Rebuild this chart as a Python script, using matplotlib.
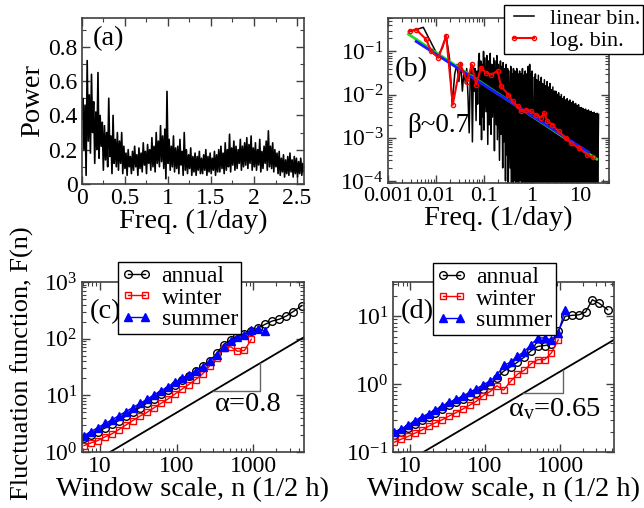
import numpy as np
import matplotlib.pyplot as plt
from matplotlib import ticker

plt.rcParams['font.family'] = ['Liberation Serif', 'DejaVu Serif']
plt.rcParams['mathtext.fontset'] = 'custom'
plt.rcParams['mathtext.rm'] = 'Liberation Serif'
plt.rcParams['mathtext.it'] = 'Liberation Serif:italic'

# (a) power spectrum, linear frequency axis
power_a = [
    0.38, 0.50, 0.20, 0.46, 0.05, 0.72, 0.25, 0.52,
    0.18, 0.64, 0.30, 0.48, 0.12, 0.42, 0.20, 0.65,
    0.15, 0.40, 0.22, 0.36, 0.08, 0.34, 0.14, 0.30,
    0.10, 0.50, 0.16, 0.28, 0.06, 0.40, 0.12, 0.26,
    0.10, 0.30, 0.08, 0.25, 0.12, 0.30, 0.06, 0.22,
    0.09, 0.18, 0.05, 0.20, 0.10, 0.16, 0.06, 0.19,
    0.08, 0.22, 0.10, 0.17, 0.05, 0.21, 0.09, 0.18,
    0.07, 0.24, 0.11, 0.19, 0.06, 0.23, 0.12, 0.20,
    0.08, 0.27, 0.10, 0.22, 0.07, 0.30, 0.12, 0.25,
    0.10, 0.34, 0.13, 0.28, 0.09, 0.32, 0.03, 0.54,
    0.12, 0.26, 0.08, 0.22, 0.10, 0.28, 0.07, 0.21,
    0.09, 0.22, 0.06, 0.26, 0.11, 0.19, 0.05, 0.30,
    0.08, 0.20, 0.06, 0.17, 0.09, 0.21, 0.05, 0.16,
    0.07, 0.18, 0.05, 0.16, 0.08, 0.19, 0.06, 0.15,
    0.06, 0.17, 0.08, 0.20, 0.05, 0.16, 0.07, 0.18,
    0.06, 0.15, 0.08, 0.19, 0.05, 0.17, 0.07, 0.20,
    0.07, 0.22, 0.09, 0.18, 0.06, 0.24, 0.08, 0.20,
    0.10, 0.29, 0.07, 0.21, 0.11, 0.25, 0.08, 0.22,
    0.09, 0.20, 0.12, 0.26, 0.08, 0.22, 0.10, 0.24,
    0.11, 0.27, 0.09, 0.23, 0.12, 0.28, 0.08, 0.21,
    0.10, 0.24, 0.08, 0.20, 0.11, 0.26, 0.07, 0.19,
    0.09, 0.22, 0.12, 0.25, 0.08, 0.31, 0.10, 0.22,
    0.09, 0.24, 0.07, 0.20, 0.10, 0.18, 0.06, 0.19,
    0.05, 0.15, 0.07, 0.17, 0.04, 0.14, 0.06, 0.16,
    0.05, 0.18, 0.07, 0.14, 0.04, 0.16, 0.06, 0.15,
    0.04, 0.13, 0.06, 0.15, 0.05, 0.12, 0.07,
]
freq_a = np.linspace(0.0, 2.58, len(power_a))  # evenly sampled spectrum

# (b) linear binning
freq_lin = [
    0.0027, 0.0055, 0.0082, 0.011, 0.0137, 0.0164, 0.0192, 0.0219, 0.0247, 0.0274,
    0.0301, 0.0329, 0.0356, 0.0384, 0.0411, 0.0438, 0.0466, 0.0493, 0.052, 0.0548,
    0.0575, 0.0603, 0.063, 0.0658, 0.0685, 0.0712, 0.074, 0.0767,
    0.080, 0.083, 0.086, 0.089, 0.092, 0.095, 0.098, 0.10, 0.105, 0.11, 0.115, 0.12,
    0.125, 0.13, 0.135, 0.14, 0.145, 0.15, 0.16, 0.165, 0.17, 0.18, 0.185, 0.19, 0.2,
    0.21, 0.22, 0.225, 0.235, 0.245, 0.25, 0.26, 0.27, 0.28, 0.29, 0.3,
    0.31, 0.32, 0.33, 0.35, 0.36, 0.37, 0.39, 0.4, 0.41, 0.43, 0.44, 0.46, 0.48, 0.49,
    0.51, 0.53, 0.55, 0.57, 0.59, 0.61, 0.63, 0.65, 0.67, 0.7, 0.72, 0.75, 0.77, 0.8,
    0.83, 0.86, 0.89, 0.92, 0.95, 0.98,
    1.0, 1.05, 1.1, 1.13, 1.17, 1.2, 1.25, 1.3, 1.35, 1.4, 1.45, 1.5, 1.55, 1.6, 1.65,
    1.7, 1.8, 1.85, 1.9, 2.0, 2.05, 2.1, 2.2, 2.3, 2.35, 2.45, 2.5, 2.6, 2.7, 2.8, 2.9, 3.0,
    3.1, 3.2, 3.3, 3.4, 3.55, 3.65, 3.8, 3.9, 4.05, 4.2, 4.35, 4.5, 4.65, 4.8, 5.0, 5.15,
    5.35, 5.5, 5.7, 5.9, 6.1, 6.3, 6.5, 6.75, 7.0, 7.2, 7.5, 7.75, 8.0, 8.3, 8.6, 8.9,
    9.2, 9.5, 9.8,
    10.2, 10.5, 10.9, 11.3, 11.7, 12.1, 12.5, 12.9, 13.4, 13.8, 14.3, 14.8, 15.3, 15.8,
    16.4, 16.9, 17.5, 18.1, 18.8, 19.4, 20.1, 20.8, 21.5, 22.3, 23.0, 24.0,
]
power_lin = [
    0.28, 0.36, 0.15, 0.08, 0.12, 0.23, 0.07, 0.006, 0.03, 0.05,
    0.02, 0.055, 0.012, 0.035, 0.018, 0.04, 0.009, 0.0013, 0.03, 0.05,
    0.0008, 0.045, 0.012, 0.04, 0.0025, 0.035, 0.006, 0.055,
    0.09, 0.002, 0.06, 0.0009, 0.05, 0.003, 0.1, 0.0015, 0.07, 0.004, 0.08, 0.0007,
    0.06, 0.002, 0.09, 0.0012, 0.05, 0.003, 0.07, 0.0005, 0.06, 0.002, 0.08, 0.0009, 0.05,
    0.0003, 0.06, 0.0012, 0.045, 0.0002, 0.055, 0.0008, 0.04, 0.0001, 0.05, 0.0004,
    0.04, 0.00005, 0.035, 0.0002, 0.045, 0.00005, 0.03, 0.00005, 0.04, 0.0001, 0.035, 0.00005,
    0.04, 0.00005, 0.03, 0.00005, 0.035, 0.0001, 0.03, 0.00005, 0.04, 0.00005, 0.028, 0.00005,
    0.035, 0.00005, 0.03, 0.00005, 0.045, 0.00005, 0.05, 0.00005, 0.03, 0.00005,
    0.035, 0.00005, 0.025, 0.00005, 0.03, 0.00005, 0.022, 0.00005, 0.028, 0.00005, 0.02,
    0.00005, 0.025, 0.00005, 0.018, 0.00005, 0.022, 0.00005, 0.016, 0.00005, 0.02, 0.00005,
    0.015, 0.00005, 0.018, 0.00005, 0.013, 0.00005, 0.015, 0.00005, 0.012, 0.00005,
    0.012, 0.00005, 0.01, 0.00005, 0.011, 0.00005, 0.009, 0.00005, 0.01, 0.00005, 0.008,
    0.00005, 0.009, 0.00005, 0.0075, 0.00005, 0.008, 0.00005, 0.007, 0.00005, 0.0075,
    0.00005, 0.0065, 0.00005, 0.007, 0.00005, 0.006, 0.00005, 0.0062, 0.00005, 0.0055,
    0.00005, 0.0058, 0.00005, 0.005,
    0.00005, 0.005, 0.00005, 0.0048, 0.00005, 0.0045, 0.00005, 0.0046, 0.00005, 0.0042,
    0.00005, 0.0044, 0.00005, 0.004, 0.00005, 0.0041, 0.00005, 0.0038, 0.00005, 0.0039,
    0.00005, 0.0036, 0.00005, 0.0037, 0.00005, 0.0035,
]

# (b) logarithmic binning
freq_log = [0.0029, 0.0039, 0.0063, 0.008, 0.0113, 0.0164, 0.0225, 0.0324, 0.0447, 0.0557,
            0.0686, 0.087, 0.11, 0.14, 0.192, 0.226, 0.32, 0.393, 0.5, 0.59,
            0.74, 0.94, 1.2, 1.52, 1.78, 2.08, 2.64, 3.6, 5.0, 6.4, 9.4, 14, 18]
power_log = [0.30, 0.32, 0.19, 0.10, 0.071, 0.23, 0.0058, 0.05, 0.02, 0.05,
             0.017, 0.042, 0.032, 0.029, 0.035, 0.0156, 0.010, 0.007, 0.0053, 0.0041,
             0.0045, 0.0041, 0.0034, 0.0029, 0.0037, 0.0024, 0.002, 0.0014, 0.001, 0.00075,
             0.00058, 0.0004, 0.00035]

# (b) power-law fits (end points)
fit_green_f = [0.0027, 22]
fit_green_p = [0.25, 3.2e-4]
fit_blue_f = [0.0039, 15]
fit_blue_p = [0.17, 4.6e-4]

# (c), (d) fluctuation functions
n = [6.2, 7.6, 9.4, 11.6, 14.3, 17.7, 21.8, 26.9, 33.2, 40.9, 50.4, 62.2, 76.7, 94.6, 117, 144,
     177, 219, 270, 333, 410, 506, 624, 769, 948, 1170, 1440, 1780, 2190, 2700, 3330, 4300]

annual_c = [1.75, 2.0, 2.3, 2.65, 3.1, 3.6, 4.3, 5.1, 6.1, 7.3, 8.8, 10.4, 12.6, 15.5, 19, 22,
            26.5, 33, 40, 55, 78, 95, 112, 122, 135, 155, 180, 205, 220, 250, 300, 380]
winter_c = [1.3, 1.45, 1.6, 1.85, 2.1, 2.5, 3.0, 3.6, 4.3, 5.0, 6.0, 7.2, 8.6, 10.5, 12.8, 15.5,
            19, 24, 33, 45, 68, 72, 60, 62, 98]
summer_c = [1.95, 2.3, 2.7, 3.2, 3.7, 4.4, 5.2, 6.1, 7.2, 8.5, 10.2, 12, 14.2, 17, 20, 23,
            27, 32, 40, 52, 70, 90, 108, 118, 140, 150, 135]

annual_d = [0.18, 0.20, 0.225, 0.26, 0.30, 0.33, 0.38, 0.43, 0.49, 0.55, 0.61, 0.67, 0.74, 0.84,
            0.97, 1.25, 1.55, 1.8, 2.1, 2.5, 3.1, 3.6, 3.7, 3.9, 6.0, 10, 10.3, 10.5, 11.5, 17.5,
            15.5, 12.5]
winter_d = [0.14, 0.155, 0.17, 0.19, 0.21, 0.24, 0.27, 0.30, 0.34, 0.38, 0.43, 0.49, 0.56, 0.68,
            0.78, 0.95, 0.82, 1.1, 1.4, 1.6, 2.0, 2.3, 2.3, 2.9, 4.5]
summer_d = [0.2, 0.22, 0.25, 0.29, 0.33, 0.37, 0.42, 0.48, 0.54, 0.6, 0.67, 0.76, 0.86, 0.98,
            1.12, 1.35, 1.9, 2.1, 2.6, 3.0, 3.8, 4.8, 4.8, 4.5, 5.7, 12.5]

# guide lines: F ~ F0 * (n/n0)^alpha
alpha_c, n0_c, F0_c = 0.8, 13.5, 1.0
alpha_d, n0_d, F0_d = 0.65, 15.0, 0.1
tri_c = [300, 1220]
tri_d = [320, 1110]

LBL = 20.5
TCK = 17
frame = '0.25'


def style(ax):
    ax.tick_params(which='both', direction='in', top=True, right=True,
                   labelsize=TCK, colors='black', pad=3)
    ax.tick_params(which='major', length=6, width=1, color=frame)
    ax.tick_params(which='minor', length=3, width=0.8, color=frame)
    for s in ax.spines.values():
        s.set_color(frame)
        s.set_linewidth(1.2)


def log_ticks(axis):
    axis.set_major_locator(ticker.LogLocator(base=10, numticks=20))
    axis.set_minor_locator(ticker.LogLocator(base=10, subs=np.arange(2, 10), numticks=20))
    axis.set_minor_formatter(ticker.NullFormatter())


fig = plt.figure(figsize=(6.44, 5.08), dpi=100)
ax_a = fig.add_axes([0.127, 0.638, 0.345, 0.327])
ax_b = fig.add_axes([0.602, 0.640, 0.344, 0.325])
ax_c = fig.add_axes([0.127, 0.110, 0.345, 0.335])
ax_d = fig.add_axes([0.610, 0.110, 0.343, 0.335])

# (a)
ax_a.plot(freq_a, power_a, color='black', lw=1.2)
ax_a.set_xlim(0, 2.58)
ax_a.set_ylim(0, 0.97)
ax_a.xaxis.set_major_locator(ticker.MultipleLocator(0.5))
ax_a.xaxis.set_minor_locator(ticker.MultipleLocator(0.25))
ax_a.yaxis.set_major_locator(ticker.MultipleLocator(0.2))
ax_a.yaxis.set_minor_locator(ticker.MultipleLocator(0.1))
ax_a.xaxis.set_major_formatter(ticker.FormatStrFormatter('%g'))
ax_a.yaxis.set_major_formatter(ticker.FormatStrFormatter('%g'))
ax_a.set_xlabel('Freq. (1/day)', fontsize=LBL, labelpad=0)
ax_a.set_ylabel('Power', fontsize=LBL, labelpad=2)
ax_a.text(0.05, 0.95, '(a)', transform=ax_a.transAxes, fontsize=LBL, va='top')
style(ax_a)

# (b)
ax_b.set_xscale('log')
ax_b.set_yscale('log')
ax_b.plot(freq_lin, power_lin, color='black', lw=1.1, label='linear bin.')
ax_b.plot(fit_green_f, fit_green_p, color='#22dd22', lw=2)
ax_b.plot(fit_blue_f, fit_blue_p, color='#1a1aff', lw=2)
ax_b.plot(freq_log, power_log, color='red', lw=1.5, marker='o', ms=3,
          mfc='none', mew=1, label='log. bin.')
ax_b.set_xlim(0.001, 40)
ax_b.set_ylim(9e-5, 0.6)
log_ticks(ax_b.xaxis)
log_ticks(ax_b.yaxis)
ax_b.xaxis.set_major_formatter(ticker.FuncFormatter(lambda v, p: '%g' % v))
ax_b.set_xlabel('Freq. (1/day)', fontsize=LBL, labelpad=0)
ax_b.text(0.03, 0.76, '(b)', transform=ax_b.transAxes, fontsize=LBL, va='top')
ax_b.text(0.09, 0.35, 'β~0.7', transform=ax_b.transAxes, fontsize=19.5, va='center')
style(ax_b)
ax_b.tick_params(axis='x', which='major', labelsize=16)
ax_b.legend(loc='upper right', bbox_to_anchor=(0.999, 0.99), bbox_transform=fig.transFigure,
            fontsize=16, frameon=True, fancybox=False, edgecolor='black', framealpha=1,
            borderpad=0.15, labelspacing=0.05, handlelength=1.5, handletextpad=0.4,
            borderaxespad=0, numpoints=2)


def fluct(ax, annual, winter, summer, alpha, n0, F0, tri, xlim, ylim, label, atext, apos, lpos):
    ax.set_xscale('log')
    ax.set_yscale('log')
    gn = np.array([n0 * 0.9, xlim[1]])
    ax.plot(gn, F0 * (gn / n0) ** alpha, color='black', lw=1.3)
    t0 = F0 * (tri[0] / n0) ** alpha
    t1 = F0 * (tri[1] / n0) ** alpha
    ax.plot([tri[0], tri[1], tri[1]], [t0, t0, t1], color='0.4', lw=1)
    ax.plot(n[:len(annual)], annual, color='black', lw=1, marker='o', ms=5.5,
            mfc='none', mew=1, label='annual')
    ax.plot(n[:len(winter)], winter, color='red', lw=1, marker='s', ms=5,
            mfc='none', mew=1, label='winter')
    ax.plot(n[:len(summer)], summer, color='blue', lw=1, marker='^', ms=5.5,
            mfc='blue', mew=1, label='summer')
    ax.set_xlim(*xlim)
    ax.set_ylim(*ylim)
    log_ticks(ax.xaxis)
    log_ticks(ax.yaxis)
    ax.xaxis.set_major_formatter(ticker.FuncFormatter(lambda v, p: '%g' % v))
    ax.set_xlabel('Window scale, n (1/2 h)', fontsize=LBL, labelpad=0)
    ax.text(0.035, 0.9, label, transform=ax.transAxes, fontsize=LBL, va='top')
    ax.text(apos[0], apos[1], atext, transform=ax.transAxes, fontsize=LBL,
            ha='center', va='center')
    style(ax)
    ax.legend(loc='upper left', bbox_to_anchor=lpos, bbox_transform=fig.transFigure,
              fontsize=17, frameon=True, fancybox=False, edgecolor='black', framealpha=1,
              borderpad=0.15, labelspacing=0.0, handlelength=1.3, handletextpad=0.4,
              borderaxespad=0, numpoints=2)


fluct(ax_c, annual_c, winter_c, summer_c, alpha_c, n0_c, F0_c, tri_c,
      (5.8, 4600), (1, 1000), '(c)', 'α=0.8', (0.75, 0.28), (0.183, 0.484))
fluct(ax_d, annual_d, winter_d, summer_d, alpha_d, n0_d, F0_d, tri_d,
      (5.9, 5200), (0.1, 32), '(d)', r'$\mathrm{\alpha_v}$=0.65', (0.73, 0.25), (0.672, 0.482))

fig.text(0.034, 0.285, 'Fluctuation function, F(n)', rotation=90, fontsize=19,
         ha='center', va='center')

fig.savefig('out.png', dpi=100)
